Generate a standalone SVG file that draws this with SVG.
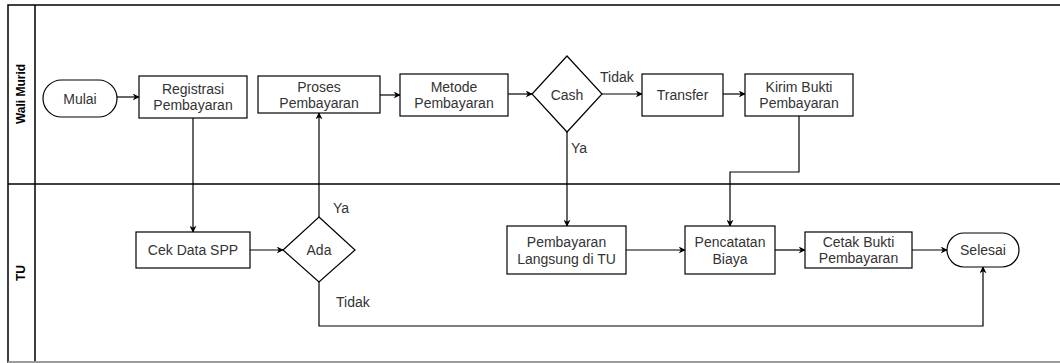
<svg xmlns="http://www.w3.org/2000/svg" width="1060" height="363" viewBox="0 0 1060 363">
<style>
.n{fill:#fff;stroke:#000;stroke-width:1.2}
.t{font-family:"Liberation Sans",Arial,sans-serif;font-size:14px;fill:#333;text-anchor:middle;dominant-baseline:central}
.l{font-family:"Liberation Sans",Arial,sans-serif;font-size:14px;fill:#333;dominant-baseline:central}
.c{fill:none;stroke:#000;stroke-width:1.2}
.lane{fill:none;stroke:#000;stroke-width:1.5}
.h{font-family:"Liberation Sans",Arial,sans-serif;font-size:12px;font-weight:bold;fill:#000;text-anchor:middle;dominant-baseline:central}
</style>
<defs>
<marker id="a" viewBox="0 0 10 10" refX="9" refY="5" markerWidth="7" markerHeight="7" markerUnits="userSpaceOnUse" orient="auto">
<path d="M0,0 L10,5 L0,10 L3,5 Z" fill="#000"/>
</marker>
</defs>
<rect width="1060" height="363" fill="#fff"/>
<g id="lanes">
<path class="lane" d="M1060,5 H8 V362 H1060"/>
<line class="lane" x1="35" y1="5" x2="35" y2="362"/>
<line class="lane" x1="8" y1="184" x2="1060" y2="184"/>
<line x1="8" y1="362" x2="1060" y2="362" stroke="#bbb" stroke-width="1.5"/>
<text class="h" transform="translate(21,94) rotate(-90)">Wali Murid</text>
<text class="h" transform="translate(21,273) rotate(-90)">TU</text>
</g>
<g id="connectors">
<line class="c" x1="117" y1="97" x2="139" y2="97" marker-end="url(#a)"/>
<line class="c" x1="193" y1="118" x2="193" y2="232" marker-end="url(#a)"/>
<line class="c" x1="250" y1="250" x2="283" y2="250" marker-end="url(#a)"/>
<line class="c" x1="319" y1="217" x2="319" y2="113" marker-end="url(#a)"/>
<line class="c" x1="380" y1="95" x2="400" y2="95" marker-end="url(#a)"/>
<line class="c" x1="508" y1="94" x2="532" y2="94" marker-end="url(#a)"/>
<line class="c" x1="602" y1="94" x2="642" y2="94" marker-end="url(#a)"/>
<line class="c" x1="723" y1="94" x2="745" y2="94" marker-end="url(#a)"/>
<line class="c" x1="567" y1="132" x2="567" y2="226" marker-end="url(#a)"/>
<path class="c" d="M799,116 V172 H730 V226" marker-end="url(#a)"/>
<line class="c" x1="626" y1="250" x2="685" y2="250" marker-end="url(#a)"/>
<line class="c" x1="775" y1="250" x2="805" y2="250" marker-end="url(#a)"/>
<line class="c" x1="912" y1="250" x2="947" y2="250" marker-end="url(#a)"/>
<path class="c" d="M319,282 V326 H983 V267" marker-end="url(#a)"/>
<text class="l" x="333" y="208">Ya</text>
<text class="l" x="336" y="302">Tidak</text>
<text class="l" x="600" y="77">Tidak</text>
<text class="l" x="571" y="148">Ya</text>
</g>
<g id="mulai">
<rect class="n" x="43" y="80" width="74" height="37" rx="18.5"/>
<text class="t" x="80" y="98.5">Mulai</text>
</g>
<g id="registrasi">
<rect class="n" x="139" y="76" width="108" height="42"/>
<text class="t" x="193" y="89">Registrasi</text>
<text class="t" x="193" y="105">Pembayaran</text>
</g>
<g id="proses">
<rect class="n" x="258" y="76" width="122" height="37"/>
<text class="t" x="319" y="87">Proses</text>
<text class="t" x="319" y="103">Pembayaran</text>
</g>
<g id="metode">
<rect class="n" x="400" y="74" width="108" height="42"/>
<text class="t" x="454" y="87">Metode</text>
<text class="t" x="454" y="103">Pembayaran</text>
</g>
<g id="cash">
<polygon class="n" points="567,56 602,94 567,132 532,94"/>
<text class="t" x="567" y="95">Cash</text>
</g>
<g id="transfer">
<rect class="n" x="642" y="74" width="81" height="42"/>
<text class="t" x="682.5" y="95">Transfer</text>
</g>
<g id="kirim">
<rect class="n" x="745" y="74" width="108" height="42"/>
<text class="t" x="799" y="87">Kirim Bukti</text>
<text class="t" x="799" y="103">Pembayaran</text>
</g>
<g id="cek">
<rect class="n" x="136" y="232" width="114" height="36"/>
<text class="t" x="193" y="250">Cek Data SPP</text>
</g>
<g id="ada">
<polygon class="n" points="319,217 355,250 319,282 283,250"/>
<text class="t" x="319" y="250">Ada</text>
</g>
<g id="langsung">
<rect class="n" x="507" y="226" width="119" height="48"/>
<text class="t" x="566.5" y="242">Pembayaran</text>
<text class="t" x="566.5" y="259">Langsung di TU</text>
</g>
<g id="pencatatan">
<rect class="n" x="685" y="226" width="90" height="48"/>
<text class="t" x="730" y="242">Pencatatan</text>
<text class="t" x="730" y="259">Biaya</text>
</g>
<g id="cetak">
<rect class="n" x="805" y="232" width="107" height="36"/>
<text class="t" x="858.5" y="242">Cetak Bukti</text>
<text class="t" x="858.5" y="258">Pembayaran</text>
</g>
<g id="selesai">
<rect class="n" x="947" y="233" width="72" height="34" rx="17"/>
<text class="t" x="983" y="250">Selesai</text>
</g>
</svg>
